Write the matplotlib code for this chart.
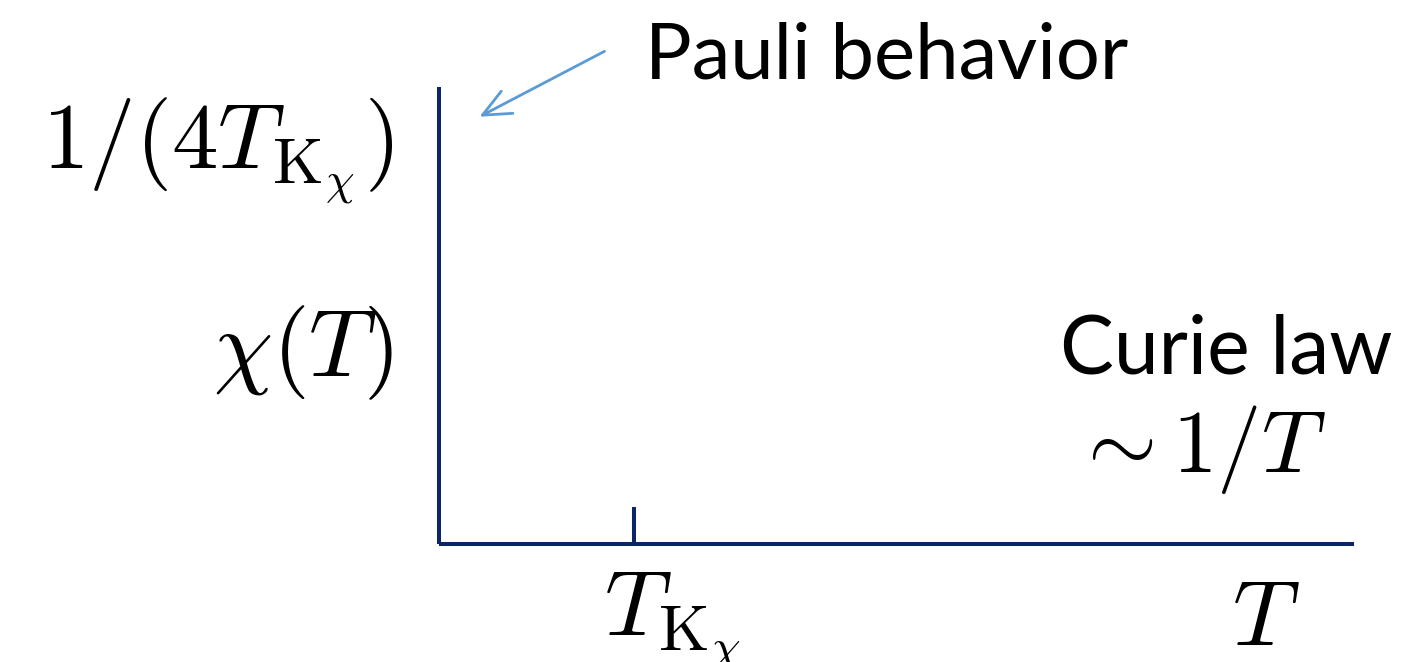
import matplotlib
matplotlib.use("Agg")
import matplotlib.pyplot as plt
import matplotlib.transforms as mtransforms
from matplotlib.patches import FancyArrowPatch

plt.rcParams["mathtext.fontset"] = "cm"

# Schematic susceptibility axes
t_kondo = 0.213          # position of T_Kχ along the temperature axis
x_max, y_max = 1.0, 1.0
axis_color = "#0b2566"
arrow_color = "#5b9bd5"

tick_labels = [r"$T_{\mathrm{K}_\chi}$"]
y_top_label = r"$1/(4T_{\mathrm{K}_\chi})$"
y_label = r"$\chi(T)$"
x_label = r"$T$"

fig = plt.figure(figsize=(14.04, 6.62), dpi=100)
ax = fig.add_axes([439 / 1404, 1 - 544 / 662, 915 / 1404, 457 / 662])
ax.set_xlim(0, x_max)
ax.set_ylim(0, y_max)

for side in ("top", "right"):
    ax.spines[side].set_visible(False)
for side in ("left", "bottom"):
    ax.spines[side].set_color(axis_color)
    ax.spines[side].set_linewidth(2.9)
    ax.spines[side].set_capstyle("butt")

ax.set_yticks([])
ax.set_xticks([t_kondo])
ax.set_xticklabels(tick_labels, fontsize=67)
ax.tick_params(axis="x", direction="in", length=27, width=2.9,
               color=axis_color, pad=19)
# shift the tick label so the T sits just left of the tick
offset = mtransforms.ScaledTranslation(-30 / 100, 0, fig.dpi_scale_trans)
for lbl in ax.get_xticklabels():
    lbl.set_horizontalalignment("left")
    lbl.set_verticalalignment("top")
    lbl.set_transform(lbl.get_transform() + offset)

ax.text(0.904, -0.065, x_label, transform=ax.transAxes, fontsize=67,
        ha="center", va="top")
ax.text(-0.05, 0.86, y_top_label, transform=ax.transAxes, fontsize=67,
        ha="right", va="center")
ax.text(-0.05, 0.418, y_label, transform=ax.transAxes, fontsize=68,
        ha="right", va="center")

fig.text(1393 / 1404, 1 - 350 / 662, "Curie law", fontsize=58,
         family="Lato", ha="right", va="center")
fig.text(1199 / 1404, 1 - 450 / 662, r"$\sim 1/T$", fontsize=64,
         ha="center", va="center")
fig.text(645 / 1404, 1 - 57 / 662, "Pauli behavior", fontsize=56,
         family="Lato", ha="left", va="center")

fig.add_artist(FancyArrowPatch(
    (607 / 1404, 1 - 50 / 662), (477 / 1404, 1 - 118 / 662),
    transform=fig.transFigure,
    arrowstyle="->,head_length=20,head_width=9",
    color=arrow_color, linewidth=2.0, mutation_scale=1))

fig.savefig("out.png", dpi=100)
